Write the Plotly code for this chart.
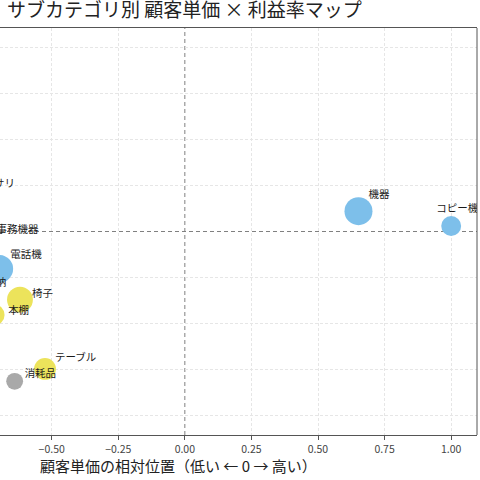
import plotly.graph_objects as go
import numpy as np

# ---- data ----
subcats = ["機器", "コピー機", "電話機", "椅子", "本棚", "テーブル", "消耗品", "アクセサリ", "事務機器", "収納"]
categories = ["テクノロジー", "テクノロジー", "テクノロジー", "家具", "家具", "家具", "事務用品", "テクノロジー", "事務用品", "事務用品"]
price_pos = [0.652, 1.0, -0.697, -0.619, -0.716, -0.525, -0.639, -0.87, -0.745, -0.787]
profit_dev = [2.2, 0.6, -4.05, -7.4, -9.05, -14.9, -16.25, 3.85, -1.14, -6.89]
sales = [1980, 1000, 1960, 1690, 1100, 1210, 720, 1500, 600, 1000]
x_ticks = [-0.5, -0.25, 0.0, 0.25, 0.5, 0.75, 1.0]
x_grid = [-0.75, -0.5, -0.25, 0.25, 0.5, 0.75, 1.0]
y_grid = [-20, -15, -10, -5, 5, 10, 15, 20]

# ---- style ----
cat_colors = {"テクノロジー": "#7DBFEA", "家具": "#ECE35B", "事務用品": "#A9A9A9"}
label_dx = [10, -15, 11, 12, 14, 10, 10, 10, 10, 10]      # px
label_dy = [-16, -17, -13, -5.5, -4, -11, -6.5, -12, -12, -12]  # px (down positive)

W, H = 480, 480
ml, mr, mt, mb = 0, 2.5, 28, 45
xr = [-0.694, 1.097]
yr = [-22.07, 22.07]
plot_w = W - ml - mr
plot_h = H - mt - mb
ux = (xr[1] - xr[0]) / plot_w
uy = (yr[1] - yr[0]) / plot_h

font_jp = "Noto Sans CJK JP"
max_d = 28
sizeref = 2.0 * max(sales) / max_d ** 2
grid = dict(showgrid=True, gridcolor="#e6e6e6", griddash="3px,2px", gridwidth=1)

fig = go.Figure()
fig.add_trace(go.Scatter(
    x=price_pos, y=profit_dev, mode="markers",
    marker=dict(size=sales, sizemode="area", sizeref=sizeref,
                color=[cat_colors[c] for c in categories], line=dict(width=0), opacity=1),
    cliponaxis=True, showlegend=False, hoverinfo="skip",
))
fig.add_trace(go.Scatter(
    x=[x + dx * ux for x, dx in zip(price_pos, label_dx)],
    y=[y - dy * uy for y, dy in zip(profit_dev, label_dy)],
    mode="text", text=subcats, textposition="middle right",
    textfont=dict(family=font_jp, size=10.5, color="#1a1a1a"),
    cliponaxis=True, showlegend=False, hoverinfo="skip",
))

fig.add_shape(type="line", xref="x", yref="paper", x0=0, x1=0, y0=0, y1=1,
              line=dict(color="#808080", width=1, dash="4px,3px"), layer="between")
fig.add_shape(type="line", xref="paper", yref="y", x0=0, x1=1, y0=0, y1=0,
              line=dict(color="#808080", width=1, dash="4px,3px"), layer="between")
fig.add_shape(type="line", xref="paper", yref="paper", x0=1, x1=1, y0=0, y1=1,
              line=dict(color="#555555", width=1))

fig.add_annotation(text="顧客単価の相対位置（低い ← 0 → 高い）", xref="paper", yref="paper",
                   x=179 / plot_w, y=-(465 - (H - mb)) / plot_h, xanchor="center", yanchor="middle",
                   showarrow=False, font=dict(family=font_jp, size=15, color="#222222"))

fig.update_layout(
    width=W, height=H,
    margin=dict(l=ml, r=mr, t=mt, b=mb, pad=0),
    paper_bgcolor="white", plot_bgcolor="white",
    title=dict(text="サブカテゴリ別 顧客単価 × 利益率マップ", xref="container", yref="container",
               x=7 / W, xanchor="left", y=1 - 10.5 / H, yanchor="middle",
               font=dict(family=font_jp, size=19, color="#222222")),
    xaxis=dict(range=xr, tickvals=x_ticks, tickformat=".2f", showgrid=False, zeroline=False,
               minor=dict(tickvals=x_grid, ticks="", **grid),
               showline=True, mirror=True, linecolor="#555555", linewidth=1,
               ticks="outside", ticklen=4, tickcolor="#555555",
               tickfont=dict(family=font_jp, size=10.5, color="#444444")),
    yaxis=dict(range=yr, tickvals=y_grid, zeroline=False, showticklabels=False,
               ticks="", showline=False, **grid),
    font=dict(family=font_jp),
)

fig.write_html("out.html")
